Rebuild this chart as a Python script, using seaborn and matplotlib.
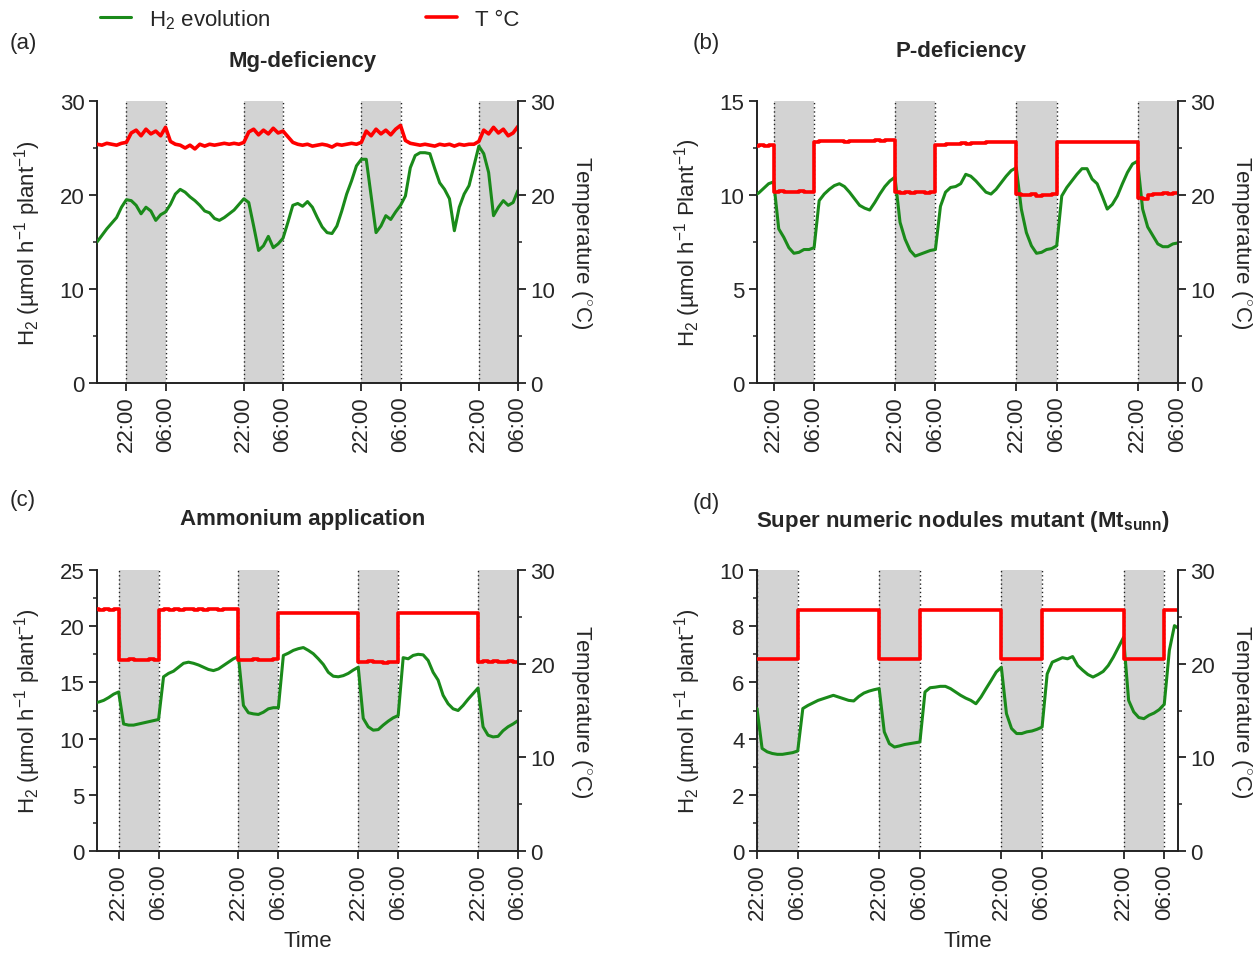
import numpy as np
import pandas as pd
import matplotlib.pyplot as plt
import matplotlib.ticker as mticker
from matplotlib.lines import Line2D
import seaborn as sns

sns.set_style("ticks")
plt.rcParams['font.family'] = ['Liberation Sans', 'DejaVu Sans']
plt.rcParams['mathtext.fontset'] = 'custom'
plt.rcParams['mathtext.rm'] = 'Liberation Sans'
plt.rcParams['mathtext.it'] = 'Liberation Sans:italic'
plt.rcParams['mathtext.bf'] = 'Liberation Sans:bold'

# hours counted from the first 22:00 (lights off), one reading per hour
nights = [0, 24, 48, 72]          # dark period 22:00 -> 06:00
night_len = 8
tick_hours = [0, 8, 24, 32, 48, 56, 72, 80]
tick_labels = ["22:00", "06:00"] * 4

# (a) Mg-deficiency
hours_a = np.arange(-6, 81)
h2_a = [15.0, 15.7, 16.4, 17.0, 17.6, 18.7, 19.5, 19.4, 18.9, 18.0,
        18.7, 18.3, 17.3, 17.9, 18.2, 19.0, 20.1, 20.6, 20.3, 19.8,
        19.4, 18.9, 18.3, 18.1, 17.5, 17.3, 17.6, 18.0, 18.4, 19.0,
        19.6, 19.2, 16.7, 14.1, 14.6, 15.6, 14.4, 14.8, 15.4, 17.1,
        18.9, 19.1, 18.8, 19.3, 18.7, 17.6, 16.6, 16.0, 15.9, 16.7,
        18.3, 20.1, 21.5, 23.1, 23.8, 23.8, 19.9, 16.0, 16.7, 17.8,
        17.4, 18.2, 18.9, 19.9, 22.9, 24.2, 24.5, 24.5, 24.4, 22.8,
        21.3, 20.6, 19.6, 16.2, 18.7, 20.1, 21.0, 23.1, 25.2, 24.4,
        22.4, 17.8, 18.7, 19.4, 18.9, 19.2, 20.5]
temp_a = [25.4, 25.3, 25.5, 25.4, 25.3, 25.5,
          25.6, 26.6, 26.9, 26.3, 27.0, 26.5, 26.8, 26.3, 27.2,
          25.7, 25.4, 25.3, 25.0, 25.3, 24.9, 25.4, 25.2, 25.4, 25.3, 25.4, 25.5, 25.4, 25.5, 25.4,
          25.6, 26.7, 27.0, 26.4, 26.9, 26.5, 27.1, 26.6, 26.8,
          26.2, 25.6,
          25.4, 25.3, 25.4, 25.2, 25.3, 25.4, 25.3, 25.1, 25.4, 25.3, 25.4, 25.5, 25.4,
          25.6, 26.8, 26.3, 27.0, 26.5, 26.9, 26.4, 27.0, 27.4,
          25.8, 25.5, 25.4, 25.3, 25.4, 25.3, 25.2, 25.4, 25.3, 25.4, 25.2, 25.4, 25.3, 25.4, 25.4,
          25.7, 26.9, 26.5, 27.2, 26.6, 27.0, 26.3, 26.6, 27.3]

# (b) P-deficiency
hours_b = np.arange(-4, 81)
h2_b = [9.95, 10.1, 10.35, 10.6, 10.7, 8.2, 7.75, 7.2, 6.9, 6.95,
        7.1, 7.1, 7.2, 9.7, 10.05, 10.3, 10.5, 10.6, 10.45, 10.15,
        9.8, 9.45, 9.3, 9.2, 9.6, 10.05, 10.45, 10.75, 10.95, 8.55,
        7.65, 7.05, 6.75, 6.85, 6.95, 7.05, 7.1, 9.4, 10.15, 10.4,
        10.45, 10.6, 11.1, 11.0, 10.75, 10.45, 10.15, 10.05, 10.3, 10.65,
        11.0, 11.3, 11.45, 9.25, 8.0, 7.3, 6.9, 6.95, 7.1, 7.15,
        7.3, 9.95, 10.4, 10.75, 11.1, 11.4, 11.4, 10.85, 10.6, 9.95,
        9.25, 9.5, 9.95, 10.6, 11.2, 11.65, 11.8, 9.25, 8.3, 7.85,
        7.4, 7.25, 7.25, 7.4, 7.45]
temp_b = [25.25, 25.3, 25.25, 25.3,
          20.3, 20.4, 20.3, 20.35, 20.3, 20.4, 20.3, 20.35,
          25.65, 25.7, 25.7, 25.75, 25.7, 25.75, 25.65, 25.7, 25.75, 25.7, 25.7, 25.75, 25.8, 25.75, 25.8, 25.85,
          20.3, 20.25, 20.35, 20.2, 20.3, 20.35, 20.25, 20.35,
          25.3, 25.35, 25.4, 25.4, 25.45, 25.5, 25.45, 25.55, 25.55, 25.5, 25.6, 25.6, 25.65, 25.65, 25.6, 25.65,
          20.1, 19.95, 20.0, 20.1, 19.9, 20.05, 20.0, 20.1,
          25.6, 25.65, 25.6, 25.65, 25.65, 25.6, 25.65, 25.65, 25.6, 25.65, 25.65, 25.6, 25.65, 25.6, 25.65, 25.6,
          19.7, 19.6, 20.0, 20.15, 20.1, 20.2, 20.15, 20.2, 20.2]

# (c) Ammonium application
hours_c = np.arange(-5, 81)
h2_c = [13.2, 13.25, 13.4, 13.65, 13.95, 14.15, 11.3, 11.2, 11.2, 11.3,
        11.4, 11.5, 11.6, 11.7, 15.5, 15.8, 16.0, 16.35, 16.7, 16.8,
        16.7, 16.55, 16.35, 16.15, 16.05, 16.2, 16.5, 16.8, 17.1, 17.3,
        12.95, 12.3, 12.2, 12.15, 12.35, 12.65, 12.75, 12.75, 17.4, 17.6,
        17.85, 18.0, 18.1, 17.85, 17.55, 17.1, 16.6, 15.9, 15.55, 15.5,
        15.6, 15.8, 16.1, 16.35, 11.8, 11.05, 10.75, 10.8, 11.2, 11.55,
        11.85, 12.05, 17.2, 17.1, 17.4, 17.5, 17.45, 16.95, 15.9, 15.2,
        13.85, 13.1, 12.65, 12.5, 12.95, 13.5, 14.0, 14.5, 11.05, 10.3,
        10.15, 10.2, 10.7, 11.05, 11.3, 11.6]
temp_c = [25.8, 25.75, 25.8, 25.75, 25.8,
          20.4, 20.35, 20.45, 20.35, 20.4, 20.35, 20.45, 20.35,
          25.75, 25.8, 25.75, 25.8, 25.75, 25.8, 25.8, 25.75, 25.8, 25.75, 25.8, 25.8, 25.75, 25.8, 25.8, 25.8,
          20.4, 20.35, 20.4, 20.45, 20.35, 20.4, 20.35, 20.45,
          25.4, 25.4, 25.45, 25.4, 25.4, 25.45, 25.4, 25.4, 25.4, 25.45, 25.4, 25.4, 25.4, 25.4, 25.4, 25.4,
          20.2, 20.15, 20.25, 20.15, 20.2, 20.1, 20.2, 20.15,
          25.4, 25.4, 25.45, 25.4, 25.4, 25.4, 25.45, 25.4, 25.4, 25.4, 25.45, 25.4, 25.4, 25.4, 25.4, 25.4,
          20.2, 20.25, 20.15, 20.25, 20.2, 20.15, 20.25, 20.2, 20.2]

# (d) Super numeric nodules mutant
hours_d = np.arange(0, 84)
h2_d = [5.07, 3.65, 3.53, 3.47, 3.44, 3.44, 3.47, 3.5, 3.56,
        5.07, 5.18, 5.27, 5.36, 5.42, 5.48, 5.54, 5.48, 5.42, 5.36, 5.34, 5.5, 5.62, 5.69, 5.74, 5.78,
        4.24, 3.82, 3.7, 3.74, 3.79, 3.82, 3.85, 3.88,
        5.66, 5.81, 5.83, 5.86, 5.86, 5.78, 5.66, 5.54, 5.44, 5.36, 5.24, 5.48, 5.78, 6.07, 6.37, 6.54,
        4.89, 4.36, 4.18, 4.18, 4.24, 4.27, 4.33, 4.41,
        6.3, 6.72, 6.8, 6.88, 6.84, 6.92, 6.6, 6.43, 6.28, 6.19, 6.28, 6.39, 6.6, 6.9, 7.25, 7.6,
        5.36, 4.95, 4.75, 4.71, 4.83, 4.91, 5.03, 5.22,
        7.14, 8.02, 7.9]
temp_d = [20.45, 20.5, 20.45, 20.45, 20.5, 20.45, 20.5, 20.45,
          25.7, 25.75, 25.7, 25.7, 25.75, 25.7, 25.75, 25.7, 25.7, 25.75, 25.7, 25.7, 25.75, 25.7, 25.7, 25.75,
          20.45, 20.5, 20.45, 20.45, 20.5, 20.45, 20.45, 20.5,
          25.7, 25.7, 25.75, 25.7, 25.7, 25.7, 25.75, 25.7, 25.7, 25.7, 25.75, 25.7, 25.7, 25.7, 25.7, 25.7,
          20.45, 20.5, 20.45, 20.5, 20.45, 20.45, 20.5, 20.45,
          25.7, 25.75, 25.7, 25.7, 25.7, 25.75, 25.7, 25.7, 25.7, 25.75, 25.7, 25.7, 25.7, 25.7, 25.75, 25.7,
          20.45, 20.5, 20.45, 20.45, 20.5, 20.45, 20.5, 20.45,
          25.7, 25.7, 25.75, 25.7]

green = "#1a8a1a"
red = "#ff0000"
W, H = 1259, 954


def rect(left, right, top, bottom):
    return [left / W, 1 - bottom / H, (right - left) / W, (bottom - top) / H]


panels = [
    dict(letter="(a)", title="Mg-deficiency", hours=hours_a, h2=h2_a, temp=temp_a,
         ymax=30, major=10, minor=5, plant="plant", xlim=(-6, 80), draw="default",
         rect=rect(97, 518, 102, 384), letter_xy=(10, 44), title_xy=(303, 61), xlabel=False),
    dict(letter="(b)", title="P-deficiency", hours=hours_b, h2=h2_b, temp=temp_b,
         ymax=15, major=5, minor=2.5, plant="Plant", xlim=(-3.3, 80), draw="steps-post",
         rect=rect(757, 1178, 102, 384), letter_xy=(693, 44), title_xy=(961, 52), xlabel=False),
    dict(letter="(c)", title="Ammonium application", hours=hours_c, h2=h2_c, temp=temp_c,
         ymax=25, major=5, minor=2.5, plant="plant", xlim=(-4.33, 80), draw="steps-post",
         rect=rect(97, 518, 571, 852), letter_xy=(10, 501), title_xy=(303, 520), xlabel=True),
    dict(letter="(d)", title=r"Super numeric nodules mutant (Mt$_{\mathbf{sunn}}$)", hours=hours_d,
         h2=h2_d, temp=temp_d, ymax=10, major=2, minor=1, plant="plant", xlim=(0, 82.7),
         draw="steps-post", rect=rect(757, 1178, 571, 852), letter_xy=(693, 504),
         title_xy=(963, 522), xlabel=True),
]

fs = 16
fig = plt.figure(figsize=(W / 100, H / 100), dpi=100)

for p in panels:
    ax = fig.add_axes(p["rect"])
    for n in nights:
        ax.axvspan(n, n + night_len, color="#d3d3d3", lw=0, zorder=0)
        for edge in (n, n + night_len):
            ax.axvline(edge, color="#222222", ls=(0, (1, 2)), lw=1, zorder=1)
    sns.lineplot(x=p["hours"], y=p["h2"], ax=ax, color=green, lw=2.2, zorder=3)
    ax.set_xlim(*p["xlim"])
    ax.set_ylim(0, p["ymax"])
    ax.yaxis.set_major_locator(mticker.MultipleLocator(p["major"]))
    ax.yaxis.set_minor_locator(mticker.MultipleLocator(p["minor"]))
    ax.set_xticks(tick_hours)
    ax.set_xticklabels(tick_labels, rotation=90)
    ax.set_ylabel(r"H$_2$ (µmol h$^{-1}$ " + p["plant"] + r"$^{-1}$)", fontsize=fs, labelpad=12)
    ax.set_xlabel("Time" if p["xlabel"] else "", fontsize=fs, labelpad=8)

    ax2 = ax.twinx()
    sns.lineplot(x=p["hours"], y=p["temp"], ax=ax2, color=red, lw=2.6, drawstyle=p["draw"])
    ax2.set_ylim(0, 30)
    ax2.yaxis.set_major_locator(mticker.MultipleLocator(10))
    ax2.yaxis.set_minor_locator(mticker.MultipleLocator(5))
    ax2.set_ylabel(r"Temperature ($^{\circ}$C)", fontsize=fs, rotation=270, labelpad=28)
    ax2.set_xlim(*p["xlim"])

    for a in (ax, ax2):
        for s in a.spines.values():
            s.set_color("#222222")
            s.set_linewidth(1.4)
        a.spines["top"].set_visible(False)
        a.tick_params(which="major", length=6, width=1.3, color="#222222",
                      labelsize=fs, pad=3, direction="out")
        a.tick_params(which="minor", length=3, width=1.1, color="#222222", direction="out")
    ax.spines["right"].set_visible(False)
    ax2.spines["left"].set_visible(False)
    ax2.spines["bottom"].set_visible(False)

    fig.text(p["letter_xy"][0] / W, 1 - p["letter_xy"][1] / H, p["letter"],
             fontsize=fs, ha="left", va="center")
    fig.text(p["title_xy"][0] / W, 1 - p["title_xy"][1] / H, p["title"],
             fontsize=fs, fontweight="bold", ha="center", va="center")

handles = [Line2D([], [], color=green, lw=2.2), Line2D([], [], color=red, lw=2.6)]
fig.legend(handles, [r"H$_2$ evolution", "T °C"], loc="center left",
           bbox_to_anchor=(100 / W, 1 - 20 / H), ncol=2, frameon=False, fontsize=fs,
           handlelength=1.4, handletextpad=0.8, columnspacing=7.0, borderpad=0,
           borderaxespad=0)

fig.savefig("out.png", dpi=100)
